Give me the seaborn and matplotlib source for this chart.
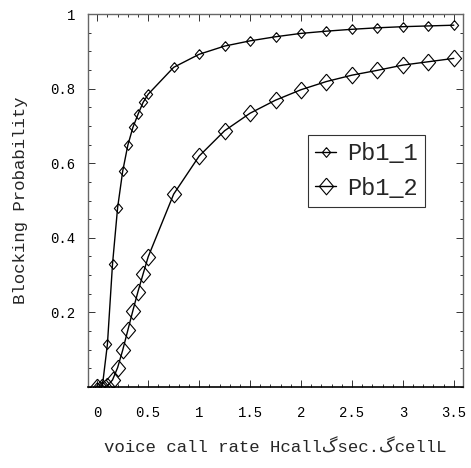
import matplotlib
matplotlib.use("Agg")
import matplotlib.pyplot as plt
import seaborn as sns
import pandas as pd
from matplotlib.ticker import FixedLocator, MultipleLocator, FixedFormatter

# ---- data ----
x1 = [0, 0.05, 0.1, 0.15, 0.2, 0.25, 0.3, 0.35, 0.4, 0.45, 0.5,
      0.75, 1.0, 1.25, 1.5, 1.75, 2.0, 2.25, 2.5, 2.75, 3.0, 3.25, 3.5]
pb1_1 = [0.0, 0.002, 0.115, 0.330, 0.481, 0.579, 0.648, 0.696, 0.731, 0.763, 0.785,
         0.857, 0.892, 0.914, 0.928, 0.939, 0.948, 0.954, 0.959, 0.963, 0.966, 0.968, 0.970]
pb1_2 = [0.0, 0.0, 0.003, 0.019, 0.052, 0.099, 0.152, 0.205, 0.256, 0.303, 0.349,
         0.517, 0.619, 0.687, 0.734, 0.769, 0.797, 0.819, 0.836, 0.849, 0.863, 0.872, 0.881]
series_names = ["Pb1_1", "Pb1_2"]
xticks = [0, 0.5, 1, 1.5, 2, 2.5, 3, 3.5]
xticklabels = ["0", "0.5", "1", "1.5", "2", "2.5", "3", "3.5"]
yticks = [0.2, 0.4, 0.6, 0.8, 1.0]
yticklabels = ["0.2", "0.4", "0.6", "0.8", "1"]
xlabel = "voice call rate Hcall\u06afsec.\u06afcellL"
ylabel = "Blocking Probability"

sns.set_style("white")
plt.rcParams['font.family'] = ['Liberation Mono', 'DejaVu Sans']

df1 = pd.DataFrame({"x": x1, "y": pb1_1})
df2 = pd.DataFrame({"x": x1, "y": pb1_2})

diamond = [(0, 1), (0.85, 0), (0, -1), (-0.85, 0), (0, 1)]

fig = plt.figure(figsize=(4.71, 4.68), dpi=100)
ax = fig.add_axes([0.187, 1 - 387 / 468, 0.796, 373 / 468])

sns.lineplot(data=df1, x="x", y="y", ax=ax, color="black", lw=1.0,
             marker=diamond, markersize=7, markerfacecolor="none",
             markeredgecolor="black", markeredgewidth=0.8, label=series_names[0])
sns.lineplot(data=df2, x="x", y="y", ax=ax, color="black", lw=1.0,
             marker=diamond, markersize=12, markerfacecolor="none",
             markeredgecolor="black", markeredgewidth=0.8, label=series_names[1])

ax.set_xlim(-0.09, 3.59)
ax.set_ylim(0, 1.0)

ax.xaxis.set_major_locator(FixedLocator(xticks))
ax.xaxis.set_major_formatter(FixedFormatter(xticklabels))
ax.xaxis.set_minor_locator(MultipleLocator(0.1))
ax.yaxis.set_major_locator(FixedLocator(yticks))
ax.yaxis.set_major_formatter(FixedFormatter(yticklabels))
ax.yaxis.set_minor_locator(MultipleLocator(0.05))

ax.tick_params(which="both", direction="in", top=True, right=True,
               bottom=True, left=True, color="#333333", width=0.7)
ax.tick_params(which="major", length=5)
ax.tick_params(which="minor", length=2.5)
ax.tick_params(axis="x", which="major", labelsize=10, pad=14, labelcolor="black")
ax.tick_params(axis="y", which="major", labelsize=10, pad=9, labelcolor="black")

for side in ["top", "right", "left"]:
    ax.spines[side].set_color("#666666")
    ax.spines[side].set_linewidth(1.0)
ax.spines["bottom"].set_color("black")
ax.spines["bottom"].set_linewidth(1.2)

ax.set_xlabel(xlabel, fontsize=12.5, labelpad=14)
ax.set_ylabel(ylabel, fontsize=12.5, labelpad=16)

leg = ax.legend(loc="upper left", bbox_to_anchor=(0.587, 0.676), fontsize=17,
                frameon=True, fancybox=False, edgecolor="black",
                handlelength=0.9, handletextpad=0.45, borderpad=0.3,
                labelspacing=0.5, borderaxespad=0)
leg.get_frame().set_linewidth(0.8)

fig.savefig("out.png", dpi=100)
